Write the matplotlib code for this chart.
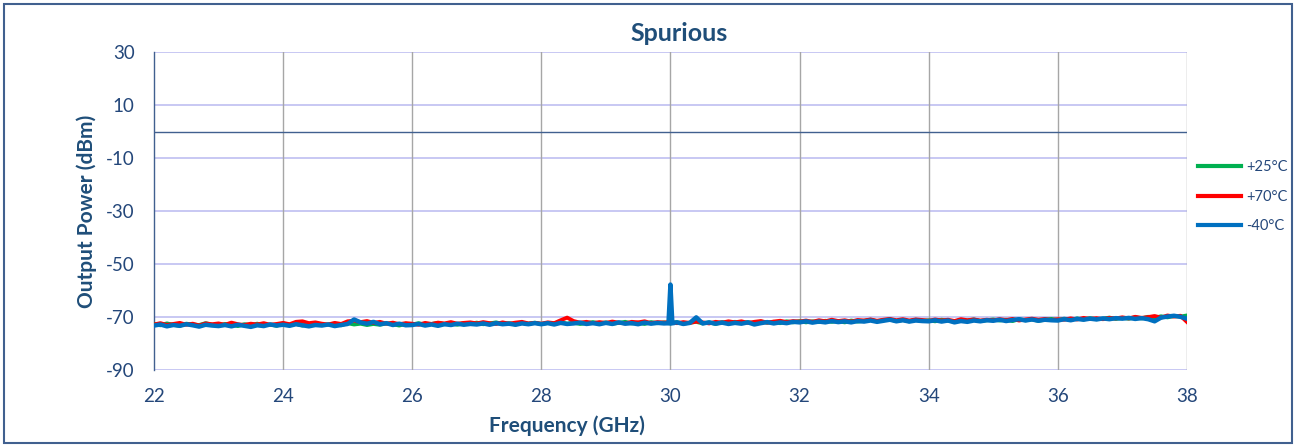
import numpy as np
import matplotlib
matplotlib.use('Agg')
import matplotlib.pyplot as plt
from matplotlib.patches import Rectangle

plt.rcParams['font.family'] = ['Lato', 'DejaVu Sans']
plt.rcParams['axes.unicode_minus'] = False

# DATA (dBm, sweep 22..38 GHz, 0.1 GHz step)
p25 = [
    -72.6, -73.1, -72.4, -72.9, -73.3, -72.5, -72.8, -73.0, -72.3, -72.9,
    -73.2, -72.6, -72.9, -73.4, -72.7, -73.0, -72.5, -73.1, -72.8, -73.3,
    -72.4, -72.9, -72.6, -73.2, -72.7, -72.4, -73.0, -72.8, -72.5, -73.1,
    -72.3, -72.8, -72.5, -73.0, -72.6, -72.9, -72.4, -72.7, -73.2, -72.5,
    -72.8, -72.3, -72.9, -72.6, -72.2, -72.7, -72.4, -72.9, -72.3, -72.6,
    -72.1, -72.7, -72.4, -72.0, -72.6, -72.3, -72.8, -72.2, -72.5, -72.1,
    -72.6, -72.2, -72.4, -71.9, -72.5, -72.1, -72.6, -72.3, -71.9, -72.4,
    -72.0, -72.5, -72.2, -71.8, -72.4, -72.1, -72.6, -71.9, -72.3, -72.0,
    -72.4, -71.9, -72.5, -72.1, -71.8, -72.4, -72.0, -72.6, -71.9, -72.2,
    -71.8, -72.3, -71.9, -72.4, -71.7, -72.1, -71.8, -72.3, -71.6, -72.0,
    -71.5, -72.0, -71.6, -71.9, -71.4, -71.8, -71.5, -72.0, -71.3, -71.7,
    -71.4, -71.0, -71.6, -71.2, -70.9, -71.5, -71.1, -71.6, -71.0, -71.4,
    -71.2, -71.6, -71.0, -71.4, -71.7, -71.1, -71.3, -70.9, -71.5, -71.2,
    -70.9, -71.3, -71.0, -71.5, -70.8, -71.2, -70.9, -71.4, -71.0, -70.7,
    -71.1, -70.6, -71.0, -70.5, -70.9, -70.4, -70.8, -70.6, -70.2, -70.7,
    -70.3, -70.6, -70.1, -70.5, -69.9, -70.3, -69.7, -70.1, -69.6, -69.8,
    -69.4,
]

p70 = [
    -72.8, -72.3, -73.0, -72.6, -72.2, -72.9, -72.5, -73.2, -72.4, -72.7,
    -72.4, -72.9, -72.1, -72.7, -73.0, -72.5, -72.8, -72.3, -72.9, -72.6,
    -72.2, -72.7, -71.8, -71.6, -72.3, -72.0, -72.5, -72.8, -72.2, -72.6,
    -71.6, -71.4, -71.9, -71.5, -72.2, -71.8, -72.5, -72.1, -72.7, -72.3,
    -72.5, -72.9, -72.2, -72.6, -72.1, -72.4, -71.9, -72.5, -72.2, -72.0,
    -72.4, -71.9, -72.3, -72.6, -72.0, -72.5, -72.1, -71.8, -72.4, -72.2,
    -72.5, -72.0, -72.3, -71.2, -70.2, -71.5, -72.1, -71.8, -72.3, -71.9,
    -72.2, -71.7, -72.1, -72.4, -71.8, -72.0, -71.6, -72.3, -71.9, -72.1,
    -71.8, -72.3, -71.9, -72.2, -71.7, -72.0, -72.4, -71.8, -72.1, -71.6,
    -72.0, -71.6, -72.2, -71.8, -71.5, -72.1, -71.7, -71.4, -71.9, -71.5,
    -71.7, -71.3, -71.8, -71.2, -71.6, -71.0, -71.5, -71.2, -71.7, -71.1,
    -71.3, -70.9, -71.4, -71.0, -70.7, -71.2, -70.8, -71.3, -70.9, -71.1,
    -71.4, -70.9, -71.3, -71.0, -71.5, -70.8, -71.2, -70.9, -71.3, -71.0,
    -71.2, -70.8, -71.1, -70.7, -71.3, -70.9, -70.6, -71.0, -70.7, -71.1,
    -70.8, -71.0, -70.5, -70.9, -70.3, -70.7, -70.4, -70.8, -70.3, -70.5,
    -70.1, -70.5, -69.9, -70.3, -70.0, -69.6, -70.2, -69.4, -69.8, -69.5,
    -71.8,
]

m40 = [
    -73.2, -72.8, -73.5, -73.0, -73.3, -72.7, -73.1, -73.6, -72.9, -73.2,
    -73.4, -73.0, -73.5, -72.9, -73.3, -73.7, -73.1, -73.4, -72.8, -73.2,
    -72.9, -73.3, -72.7, -73.1, -73.5, -73.0, -73.2, -72.8, -73.4, -73.0,
    -72.6, -70.9, -72.0, -72.5, -71.8, -72.7, -72.3, -73.0, -72.5, -73.1,
    -73.0, -72.6, -73.2, -72.8, -73.3, -72.7, -73.0, -72.5, -72.9, -72.6,
    -72.8, -72.4, -72.9, -72.3, -72.7, -72.5, -72.9, -72.4, -72.7, -72.3,
    -72.7, -72.3, -72.8, -72.2, -72.6, -72.4, -72.1, -72.6, -72.3, -72.7,
    -72.2, -72.6, -72.0, -72.5, -72.3, -72.7, -72.1, -72.5, -72.2, -72.4,
    -72.3, -72.0, -72.6, -72.2, -70.1, -72.4, -72.0, -72.5, -72.1, -72.6,
    -72.2, -72.5, -72.0, -72.8, -72.3, -71.9, -72.4, -72.0, -72.3, -71.8,
    -72.0, -71.6, -72.1, -71.7, -72.0, -71.5, -71.9, -71.6, -72.0, -71.5,
    -71.7, -71.3, -71.8, -71.4, -71.0, -71.6, -71.2, -71.7, -71.3, -71.5,
    -71.6, -71.2, -71.7, -71.3, -72.0, -71.5, -71.8, -71.3, -71.6, -71.2,
    -71.4, -71.0, -71.5, -71.1, -70.8, -71.3, -70.9, -71.4, -71.0, -71.2,
    -71.3, -70.8, -71.2, -70.7, -71.0, -70.6, -70.9, -70.5, -70.8, -70.4,
    -70.6, -70.3, -70.7, -70.4, -70.8, -71.6, -70.2, -69.8, -69.5, -69.9,
    -70.6,
]

# the 30 GHz spur seen on the -40C trace
spur_freq = [29.97, 30.0, 30.03]
spur_val = [-72.2, -57.7, -72.3]

labels = ['+25°C', '+70°C', '-40°C']
colors = ['#00B050', '#FF0000', '#0070C0']

freq = np.linspace(22, 38, len(p25))

TXT = '#24477A'
TITLE = '#1F4E79'


def main():
    fig = plt.figure(figsize=(12.96, 4.46), dpi=100)
    ax = fig.add_axes([0.1188, 0.1704, 0.797, 0.7119])

    # outer frame
    fig.patches.append(Rectangle((0.003, 0.006), 0.994, 0.985, transform=fig.transFigure,
                                 fill=False, edgecolor='#41608F', linewidth=1.5))

    ax.plot(freq, p25, color=colors[0], lw=2.8, label=labels[0], zorder=3)
    ax.plot(freq, p70, color=colors[1], lw=2.8, label=labels[1], zorder=4)
    ax.plot(freq, m40, color=colors[2], lw=3.2, label=labels[2], zorder=5)
    ax.plot(spur_freq, spur_val, color=colors[2], lw=3.2, zorder=5)

    ax.set_xlim(22, 38)
    ax.set_ylim(-90, 30)
    ax.set_xticks(np.arange(22, 39, 2))
    ax.set_yticks(np.arange(-90, 31, 20))

    for y in np.arange(-90, 31, 20):
        ax.axhline(y, color='#C4C4F2', lw=1.3, zorder=1)
    for x in np.arange(24, 39, 2):
        ax.axvline(x, color='#A6A6A6', lw=1.0, zorder=1)
    ax.axhline(0, color='#41608F', lw=1.0, zorder=2)

    for s in ['top', 'right', 'bottom']:
        ax.spines[s].set_visible(False)
    ax.spines['left'].set_color('#41608F')
    ax.spines['left'].set_linewidth(1.0)

    ax.tick_params(length=0, labelsize=13.5, labelcolor=TXT)
    ax.tick_params(axis='x', pad=13)
    ax.tick_params(axis='y', pad=14)

    ax.set_xlabel('Frequency (GHz)', fontsize=15, fontweight='bold', color=TITLE)
    ax.xaxis.set_label_coords(0.40, -0.142)
    ax.set_ylabel('Output Power (dBm)', fontsize=15, fontweight='bold', color=TITLE, labelpad=6)
    ax.set_title('Spurious', fontsize=18, fontweight='bold', color=TITLE, pad=8, x=0.508)

    leg = fig.legend(loc='upper left', bbox_to_anchor=(0.914, 0.67), frameon=False,
                     fontsize=10.5, handlelength=3.0, labelspacing=1.05, handletextpad=0.3)
    for t in leg.get_texts():
        t.set_color(TXT)
    for h in leg.get_lines():
        h.set_linewidth(3.0)

    fig.savefig('out.png', dpi=100)


if __name__ == '__main__':
    main()
